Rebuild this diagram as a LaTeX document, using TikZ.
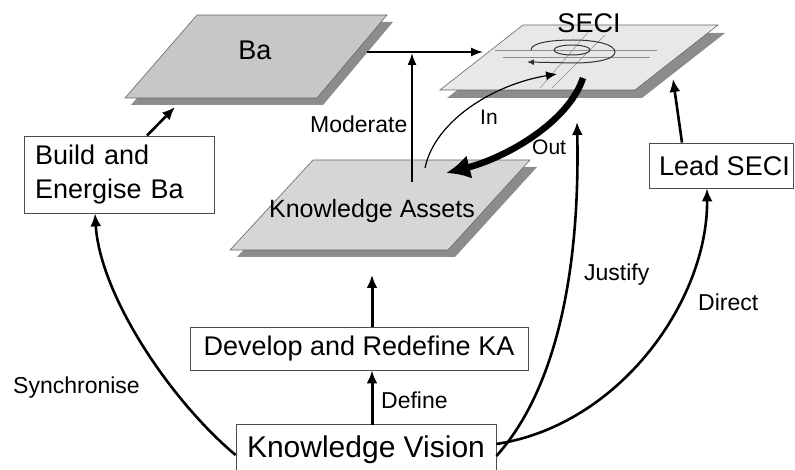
\documentclass[tikz,border=0pt]{standalone}
\usepackage{fontspec}
\setmainfont{Liberation Sans}
\usetikzlibrary{arrows.meta, positioning}

\begin{document}
\begin{tikzpicture}[x=1pt, y=-1pt,
  plane/.style={draw=black!60, line width=0.6pt},
  shade/.style={fill=black!45},
  grid/.style={draw=black!45, line width=0.5pt},
  box/.style={draw=black!70, line width=0.8pt},
  big/.style={font=\fontsize{27}{34}\selectfont, inner sep=0pt},
  lbl/.style={font=\fontsize{23}{28}\selectfont, inner sep=0pt, anchor=base west},
  arr/.style={-{Latex[length=13pt, width=11pt]}, line width=2.6pt},
  slim/.style={-{Latex[length=12pt, width=9pt]}, line width=1.6pt},
  thin/.style={-{Latex[length=11pt, width=9pt]}, line width=1.2pt},
  fat/.style={-{Latex[length=24pt, width=24pt]}, line width=6.5pt},
  spiral/.style={line width=1pt, black!80},
]

\useasboundingbox (0,0) rectangle (795,470);
\clip (0,0) rectangle (795,470);

% Planes
\fill[shade] (203,22) -- (393,22) -- (323,105) -- (131,105) -- cycle;
\draw[plane, fill=black!22] (197,15) -- (387,15) -- (317,98) -- (125,98) -- cycle;
\fill[shade] (530,33) -- (725,33) -- (642,98) -- (447,98) -- cycle;
\draw[plane, fill=black!9] (523,25) -- (718,25) -- (635,90) -- (440,90) -- cycle;
\fill[shade] (320,167) -- (537,167) -- (455,257) -- (237,257) -- cycle;
\draw[plane, fill=black!16] (313,160) -- (530,160) -- (448,250) -- (230,250) -- cycle;

% SECI grid and spiral
\draw[grid] (495,50) -- (657,50);
\draw[grid] (503,57) -- (650,57);
\draw[grid] (590,30) -- (540,88);
\draw[grid] (605,35) -- (552,88);
\draw[spiral] (572,50) ellipse[x radius=18pt, y radius=5pt];
\draw[spiral, -{Latex[length=7pt, width=6pt]}] (531,50) .. controls (531,43) and (550,40) .. (573,40)
  .. controls (598,40) and (615,45) .. (615,52) .. controls (615,59) and (598,63) .. (573,63) -- (527,62);

% Plane labels
\node[big, anchor=base] (ba)   at (255,60)  {Ba};
\node[big, anchor=base] (seci) at (589,33)  {SECI};
\node[anchor=base, inner sep=0pt, font=\fontsize{25}{30}\selectfont] (ka) at (372,218) {Knowledge Assets};

% Boxes
\node[box, big, minimum width=190pt, minimum height=77pt, text width=168pt, align=left] (build) at (119,174.5) {Build and\\Energise Ba};
\node[box, big, minimum width=144pt, minimum height=45pt] (lead) at (721,165.5) {\hspace{7pt}Lead SECI};
\node[box, big, minimum width=338pt, minimum height=43pt] (develop) at (359,348.5) {Develop and Redefine KA};
\node[box, inner sep=0pt, font=\fontsize{30}{36}\selectfont, minimum width=260pt, minimum height=52pt] (vision) at (366,450) {Knowledge Vision};

% Anchor points on the planes
\coordinate (ba-s)     at (175,107);
\coordinate (ba-e)     at (367,52);
\coordinate (seci-w)   at (483,52);
\coordinate (seci-in)  at (557,74);
\coordinate (seci-out) at (583,78);
\coordinate (seci-s)   at (577,122);
\coordinate (seci-se)  at (673,79);
\coordinate (ka-n)     at (412,182);
\coordinate (ka-tip)   at (412,53);
\coordinate (ka-in)    at (425,168);
\coordinate (ka-out)   at (446,173);
\coordinate (ka-s)     at (372,275);

% Edge labels
\node[lbl] (moderate) at (310,133) {Moderate};
\node[lbl, font=\fontsize{21}{26}\selectfont] (in) at (480,125) {In};
\node[lbl, font=\fontsize{21}{26}\selectfont] (out) at (532,155) {Out};
\node[lbl] (justify) at (584,280) {Justify};
\node[lbl] (direct) at (698,310) {Direct};
\node[lbl] (define) at (381,408) {Define};
\node[lbl] (sync) at (13,393) {Synchronise};

% Connectors
\draw[arr] ([xshift=28pt]build.north) -- (ba-s);
\draw[slim] (ba-e) -- (seci-w);
\draw[slim] (ka-n) -- (ka-tip);
\draw[thin] (ka-in) .. controls (435,120) and (495,84) .. (seci-in);
\draw[fat] (seci-out) .. controls (568,123) and (505,158) .. (ka-out);
\draw[arr] ([xshift=-39pt]lead.north) -- (seci-se);
\draw[arr, line width=3pt] ([xshift=13pt]develop.north) -- (ka-s);
\draw[arr, line width=3pt] ([xshift=6pt, yshift=-1pt]vision.north) -- ([xshift=13pt]develop.south);
\draw[arr] ([yshift=-5pt]vision.west) .. controls (170,400) and (100,295) .. ([xshift=-24pt]build.south);
\draw[arr] ([yshift=-6pt]vision.east) .. controls (560,385) and (580,260) .. (seci-s);
\draw[arr] ([yshift=6pt]vision.east) .. controls (620,425) and (708,300) .. ([xshift=-14pt]lead.south);

\end{tikzpicture}
\end{document}
